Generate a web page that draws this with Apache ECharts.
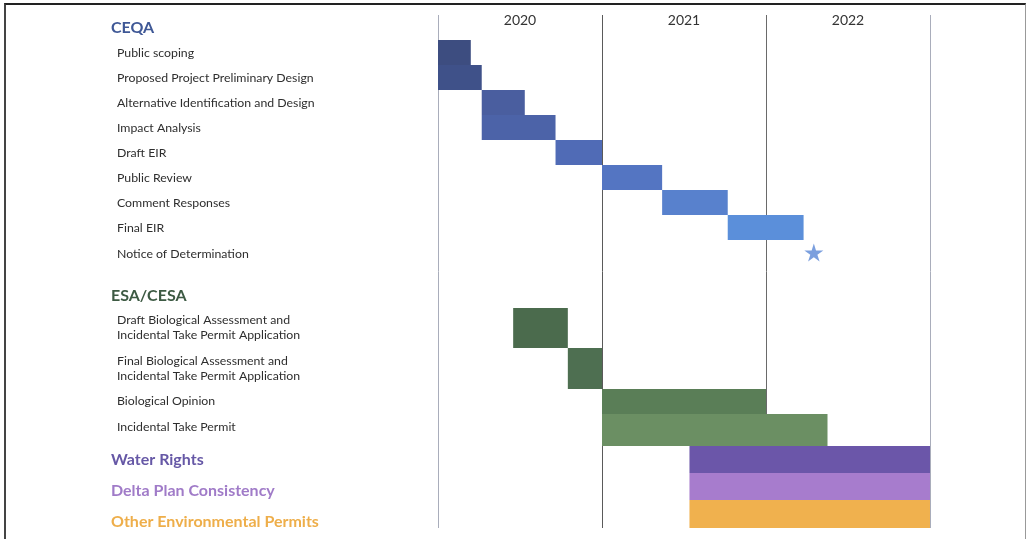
<!DOCTYPE html>
<html>
<head>
<meta charset="utf-8">
<title>Permitting schedule</title>
<script src="https://cdn.jsdelivr.net/npm/echarts@6/dist/echarts.min.js"></script>
<style>
  html, body { margin: 0; padding: 0; background: #fff; }
  #chart { width: 1029px; height: 539px; }
  #frame {
    position: absolute; left: 4px; top: 3px; width: 1019px; height: 540px;
    border-top: 2px solid #222; border-left: 2px solid #444; border-right: 1px solid #999;
    pointer-events: none;
  }
</style>
</head>
<body>
<div id="chart"></div>
<div id="frame"></div>
<script>
// months counted from Jan 2020
var years = ['2020', '2021', '2022'];

var ceqaTasks = ['Public scoping', 'Proposed Project Preliminary Design', 'Alternative Identification and Design',
  'Impact Analysis', 'Draft EIR', 'Public Review', 'Comment Responses', 'Final EIR'];
var ceqaStart = [0, 0, 3.2, 3.2, 8.6, 12, 16.4, 21.2];
var ceqaEnd = [2.4, 3.2, 6.35, 8.6, 12, 16.4, 21.2, 26.75];
var milestoneName = 'Notice of Determination';
var milestoneMonth = 27.5;

var esaTasks = ['Draft Biological Assessment and\nIncidental Take Permit Application',
  'Final Biological Assessment and\nIncidental Take Permit Application',
  'Biological Opinion', 'Incidental Take Permit'];
var esaStart = [5.5, 9.5, 12, 12];
var esaEnd = [9.5, 12, 24, 28.5];

var permitGroups = ['Water Rights', 'Delta Plan Consistency', 'Other Environmental Permits'];
var permitStart = [18.4, 18.4, 18.4];
var permitEnd = [36, 36, 36];

// styles / layout
var ceqaColors = ['#3d4d80', '#3f5189', '#4a5e9f', '#4c63a8', '#506bb6', '#5475c2', '#5881cd', '#5b8fda'];
var starColor = '#5a87d6';
var esaColors = ['#4b6b4d', '#4e6f51', '#5a7e57', '#6b8f63'];
var permitColors = ['#6b56a9', '#a77ccd', '#f0b14e'];
var permitTextColors = ['#6658a6', '#a07bc8', '#eeae4a'];
var esaSpans = [1.6, 1.64, 1, 1.28];
var esaLabelShift = [0, 0, 0, -3];      // px
var permitSpans = [1.08, 1.08, 1.12];
var permitLabelShift = [0, 4.5, 7.5];   // px

var rows = [];   // {label, kind, top, bottom, color, shift}
var bars = [];
var cursor = 0;
function addRow(label, kind, span, color, shift) {
  var r = { label: label, kind: kind, top: cursor, bottom: cursor + span, color: color, shift: shift || 0 };
  cursor += span;
  rows.push(r);
  return r;
}

addRow('CEQA', 'group', 1, '#3f5896');
ceqaTasks.forEach(function (name, i) {
  var r = addRow(name, 'task', 1, null, 1);
  bars.push({ value: [ceqaStart[i], ceqaEnd[i], r.top, r.bottom], itemStyle: { color: ceqaColors[i] } });
});
var nodRow = addRow(milestoneName, 'task', 1, null, 1.5);
addRow('', 'gap', 0.72);
addRow('ESA/CESA', 'group', 1, '#3d5a43');
esaTasks.forEach(function (name, i) {
  var r = addRow(name, 'task', esaSpans[i], null, esaLabelShift[i]);
  bars.push({ value: [esaStart[i], esaEnd[i], r.top, r.bottom], itemStyle: { color: esaColors[i] } });
});
permitGroups.forEach(function (name, i) {
  var r = addRow(name, 'group', permitSpans[i], permitTextColors[i], permitLabelShift[i]);
  bars.push({ value: [permitStart[i], permitEnd[i], r.top, r.bottom], itemStyle: { color: permitColors[i] } });
});

var myChart = echarts.init(document.getElementById('chart'));
var option = {
  animation: false,
  textStyle: { fontFamily: 'Lato, "Noto Sans", sans-serif' },
  grid: { left: 438, right: 99, top: 15, bottom: 11 },
  xAxis: [
    {
      type: 'value', min: 0, max: 36, interval: 12,
      axisLine: { show: false }, axisTick: { show: false }, axisLabel: { show: false },
      splitLine: { show: true, lineStyle: { color: ['#a9adbb', '#5a5a5a', '#6a6a6a', '#a9adbb'], width: 1 } }
    },
    {
      type: 'category', data: years, position: 'top', offset: -12,
      axisLine: { show: false }, axisTick: { show: false }, splitLine: { show: false },
      axisLabel: { margin: 0, fontSize: 14, color: '#333' }
    }
  ],
  yAxis: { type: 'value', inverse: true, min: 0, max: cursor, show: false },
  series: [
    {
      type: 'custom',
      xAxisIndex: 0,
      data: bars,
      renderItem: function (params, api) {
        var p0 = api.coord([api.value(0), api.value(2)]);
        var p1 = api.coord([api.value(1), api.value(3)]);
        return {
          type: 'rect',
          shape: { x: p0[0], y: p0[1], width: p1[0] - p0[0], height: p1[1] - p0[1] },
          style: { fill: api.visual('color') }
        };
      }
    },
    {
      type: 'scatter',
      xAxisIndex: 0,
      data: [[milestoneMonth, (nodRow.top + nodRow.bottom) / 2]],
      symbol: 'path://M50,0 L61,35 L98,35 L68,57 L79,91 L50,70 L21,91 L32,57 L2,35 L39,35 Z',
      symbolSize: [19, 18],
      itemStyle: { color: starColor }
    },
    {
      type: 'custom',
      xAxisIndex: 0,
      silent: true,
      data: rows.map(function (r) { return [r.top, r.bottom]; }),
      renderItem: function (params, api) {
        var r = rows[params.dataIndex];
        if (r.kind === 'gap') return null;
        var y = api.coord([0, (api.value(0) + api.value(1)) / 2])[1] + r.shift;
        var isGroup = r.kind === 'group';
        return {
          type: 'text',
          x: params.coordSys.x - (isGroup ? 327 : 321),
          y: y,
          style: {
            text: r.label,
            fill: isGroup ? r.color : '#2e2e2e',
            font: (isGroup ? 'bold 16px ' : '12.3px ') + 'Lato, "Noto Sans", sans-serif',
            lineHeight: 15,
            verticalAlign: 'middle',
            align: 'left'
          }
        };
      }
    }
  ]
};
myChart.setOption(option);
window.addEventListener('resize', function () {
  myChart.resize();
});
</script>
</body>
</html>
